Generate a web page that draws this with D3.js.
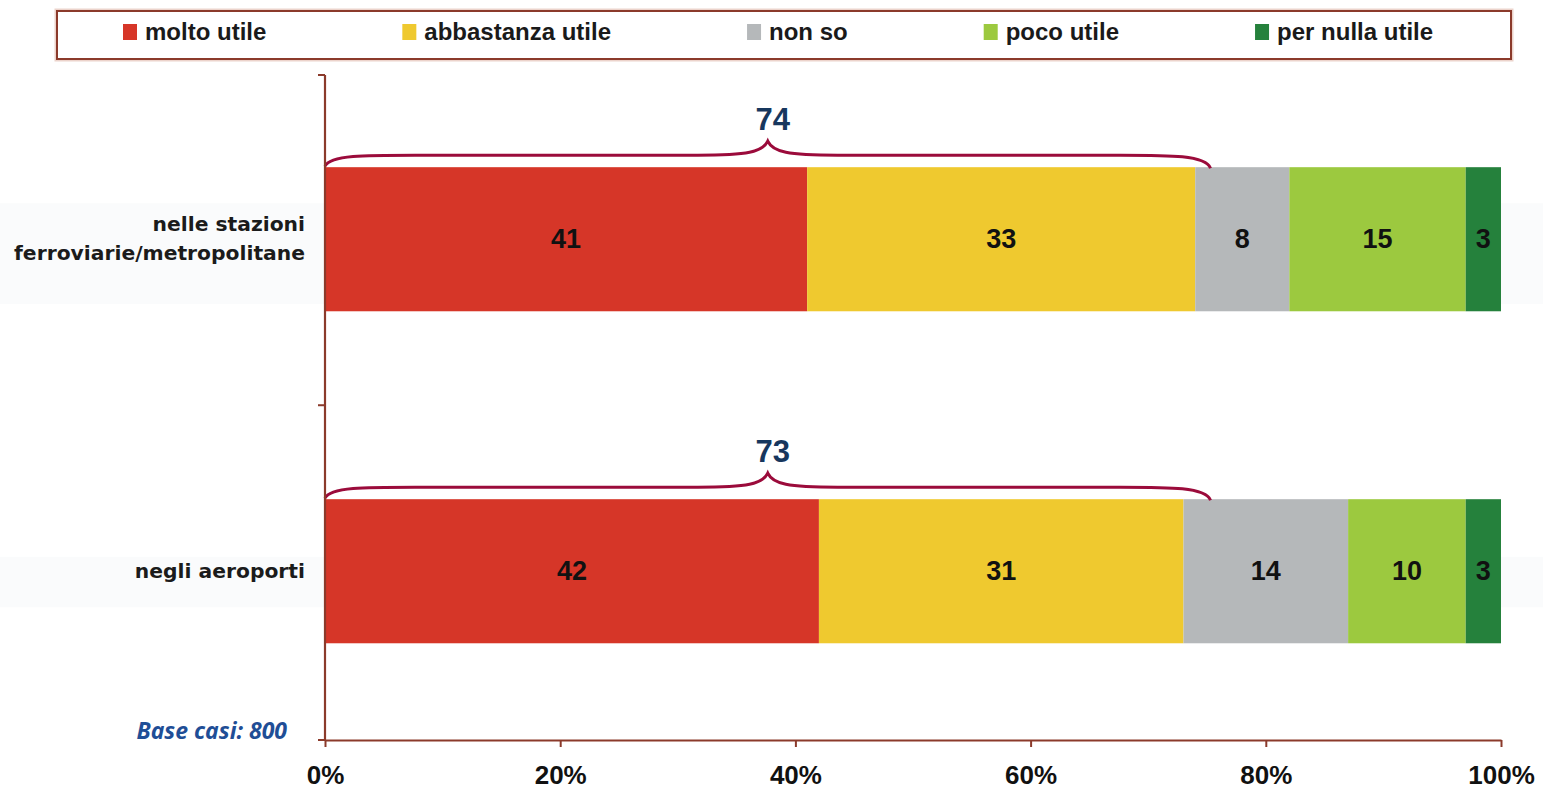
<!DOCTYPE html>
<html>
<head>
<meta charset="utf-8">
<script src="https://cdn.jsdelivr.net/npm/d3@7"></script>
<style>
  html, body { margin: 0; padding: 0; background: #ffffff; }
  svg { display: block; }
</style>
</head>
<body>
<svg id="chart" width="1543" height="791"></svg>
<script>
// ---------------- data ----------------
const categories = ["nelle stazioni ferroviarie/metropolitane", "negli aeroporti"];
const categoryLines = [["nelle stazioni", "ferroviarie/metropolitane"], ["negli aeroporti"]];
const seriesNames = ["molto utile", "abbastanza utile", "non so", "poco utile", "per nulla utile"];
const moltoUtile = [41, 42];
const abbastanzaUtile = [33, 31];
const nonSo = [8, 14];
const pocoUtile = [15, 10];
const perNullaUtile = [3, 3];
const braceTotals = [74, 73];
const braceReach = [75.3, 75.3];   // percent extent of the brace
const xTicks = [0, 20, 40, 60, 80, 100];
const baseNote = "Base casi: 800";
const seriesColors = ["#d63628", "#efc92f", "#b5b8ba", "#9cc93f", "#25813c"];

// ---------------- setup ----------------
const svg = d3.select("#chart");
const axisColor = "#8b3a2b";
const braceColor = "#9b0b3b";

const x = d3.scaleLinear().domain([0, 100]).range([325, 1501]);
const y = d3.scaleBand().domain(categories).range([75, 740])
  .paddingInner(0.566).paddingOuter(0.2845).align(0.488);
const bw = y.bandwidth();

const seriesValues = [moltoUtile, abbastanzaUtile, nonSo, pocoUtile, perNullaUtile];
const rows = categories.map((c, i) => {
  const r = { cat: c };
  seriesNames.forEach((s, j) => r[s] = seriesValues[j][i]);
  return r;
});
const stacked = d3.stack().keys(seriesNames)(rows);

// faint label bands
const bandRects = [[0.25, 0.95], [0.4, 0.75]];
categories.forEach((c, i) => {
  const y0 = y(c) + bw * bandRects[i][0];
  const y1 = y(c) + bw * bandRects[i][1];
  svg.append("rect").attr("x", 0).attr("y", y0).attr("width", 1543).attr("height", y1 - y0)
    .attr("fill", "#fafbfc");
});

// ---------------- legend ----------------
svg.append("rect").attr("x", 57).attr("y", 11).attr("width", 1454).attr("height", 48)
  .attr("fill", "#ffffff").attr("stroke", "#ecd3cb").attr("stroke-width", 5);
svg.append("rect").attr("x", 57).attr("y", 11).attr("width", 1454).attr("height", 48)
  .attr("fill", "#ffffff").attr("stroke", axisColor).attr("stroke-width", 2);

let lx = 123;
seriesNames.forEach((s, j) => {
  svg.append("rect").attr("x", lx).attr("y", 24).attr("width", 14).attr("height", 16)
    .attr("fill", seriesColors[j]);
  const t = svg.append("text").attr("x", lx + 22).attr("y", 40)
    .attr("font-family", "'Liberation Sans', Arial, sans-serif")
    .attr("font-weight", "bold").attr("font-size", 24).attr("fill", "#1a1a1a")
    .text(s);
  lx = lx + 22 + t.node().getComputedTextLength() + 136;
});

// ---------------- bars ----------------
const g = svg.append("g");
stacked.forEach((layer, j) => {
  g.selectAll(null).data(layer).enter().append("rect")
    .attr("x", d => x(d[0]))
    .attr("y", d => y(d.data.cat))
    .attr("width", d => x(d[1]) - x(d[0]))
    .attr("height", bw)
    .attr("fill", seriesColors[j]);
  g.selectAll(null).data(layer).enter().append("text")
    .attr("x", d => (x(d[0]) + x(d[1])) / 2)
    .attr("y", d => y(d.data.cat) + bw / 2)
    .attr("dy", "0.33em")
    .attr("text-anchor", "middle")
    .attr("font-family", "'Liberation Sans', Arial, sans-serif")
    .attr("font-weight", "bold").attr("font-size", 27).attr("fill", "#111111")
    .text(d => d[1] - d[0]);
});

// ---------------- braces ----------------
categories.forEach((c, i) => {
  const top = y(c);
  const x0 = x(0), x1 = x(braceReach[i]), xm = (x0 + x1) / 2;
  const yS = top - 1, yH = top - 12, yP = top - 26;
  const p = d3.path();
  p.moveTo(x0, yS);
  p.bezierCurveTo(x0 + 5, yH, x0 + 40, yH, x0 + 90, yH);
  p.lineTo(xm - 70, yH);
  p.bezierCurveTo(xm - 20, yH, xm - 5, yH - 3, xm, yP);
  p.bezierCurveTo(xm + 5, yH - 3, xm + 20, yH, xm + 70, yH);
  p.lineTo(x1 - 90, yH);
  p.bezierCurveTo(x1 - 40, yH, x1 - 5, yH, x1, yS + 2);
  svg.append("path").attr("d", p.toString()).attr("fill", "none")
    .attr("stroke", braceColor).attr("stroke-width", 3);
  svg.append("text").attr("x", xm + 5).attr("y", top - 37)
    .attr("text-anchor", "middle")
    .attr("font-family", "'Liberation Sans', Arial, sans-serif")
    .attr("font-weight", "bold").attr("font-size", 31).attr("fill", "#17375e")
    .text(braceTotals[i]);
});

// ---------------- axes ----------------
const xAxis = d3.axisBottom(x).tickValues(xTicks).tickFormat(d => d + "%")
  .tickSize(7).tickSizeOuter(0);
const xg = svg.append("g").attr("transform", "translate(0,740)").call(xAxis);
xg.select(".domain").attr("stroke", axisColor).attr("stroke-width", 2.2);
xg.selectAll(".tick line").attr("stroke", axisColor).attr("stroke-width", 2);
xg.selectAll(".tick text").attr("y", 44).attr("dy", 0)
  .attr("font-family", "'Liberation Sans', Arial, sans-serif")
  .attr("font-weight", "bold").attr("font-size", 26).attr("fill", "#111111");

// y axis with ticks at band boundaries
const bounds = [y.range()[0],
  (y(categories[0]) + bw + y(categories[1])) / 2,
  y.range()[1]];
svg.append("line").attr("x1", x(0)).attr("x2", x(0)).attr("y1", bounds[0]).attr("y2", bounds[2])
  .attr("stroke", axisColor).attr("stroke-width", 2.2);
bounds.forEach(b => {
  svg.append("line").attr("x1", x(0) - 7).attr("x2", x(0)).attr("y1", b).attr("y2", b)
    .attr("stroke", axisColor).attr("stroke-width", 2);
});

// category labels
categories.forEach((c, i) => {
  const lines = categoryLines[i];
  const cy = y(c) + bw / 2;
  const lh = 29;
  lines.forEach((ln, k) => {
    svg.append("text").attr("x", 305)
      .attr("y", cy + (k - (lines.length - 1) / 2) * lh)
      .attr("dy", "0.33em")
      .attr("text-anchor", "end")
      .attr("font-family", "'DejaVu Sans', Verdana, sans-serif")
      .attr("font-weight", "bold").attr("font-size", 20.3).attr("fill", "#1b1b1b")
      .text(ln);
  });
});

// base note
svg.append("text").attr("x", 287).attr("y", 739).attr("text-anchor", "end")
  .attr("font-family", "'Open Sans', sans-serif").attr("font-style", "italic")
  .attr("font-weight", 700).attr("font-size", 23).attr("fill", "#1f4e96")
  .text(baseNote);
</script>
</body>
</html>
